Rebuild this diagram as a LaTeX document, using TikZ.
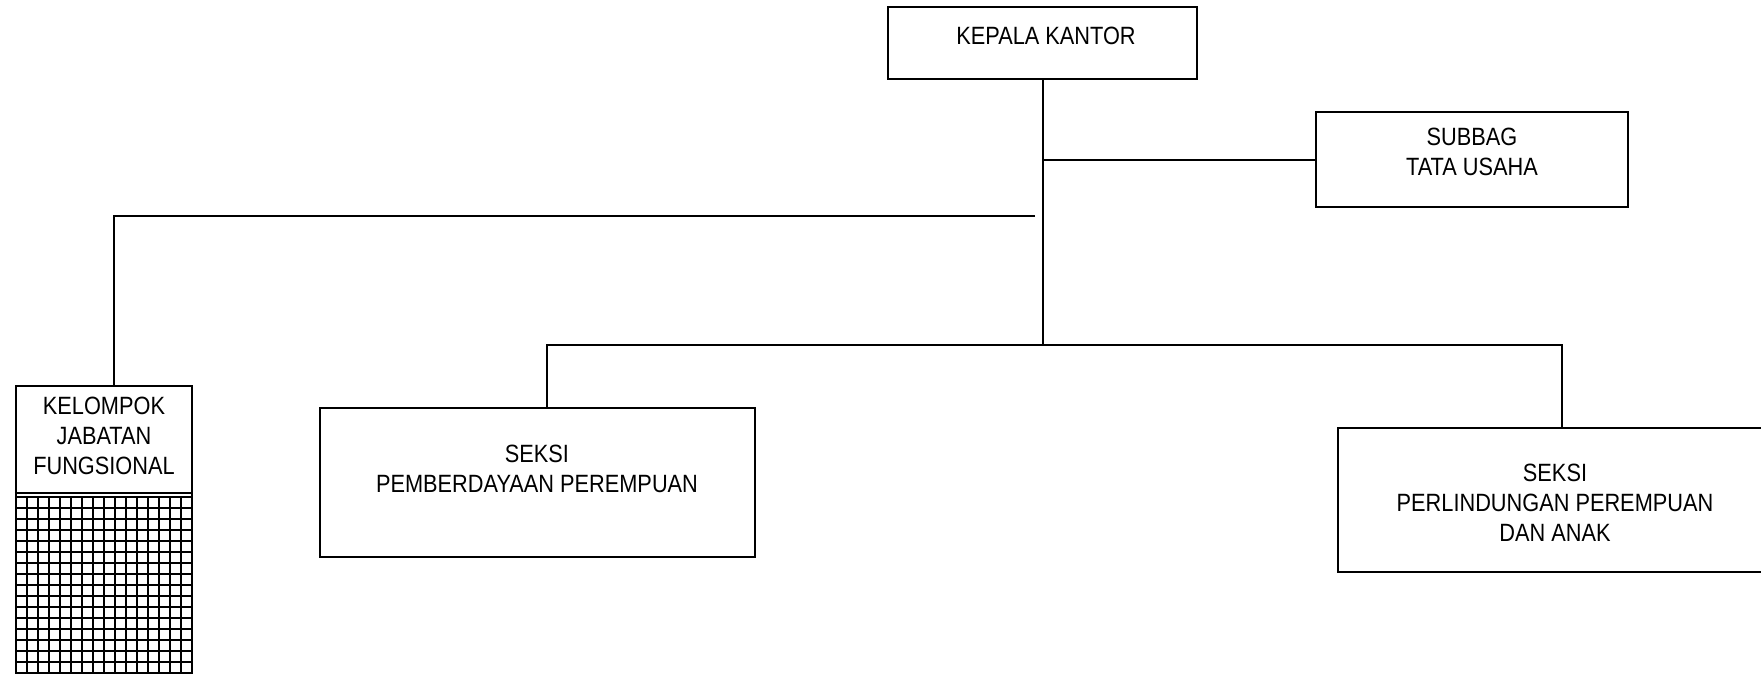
\documentclass[tikz,border=0pt]{standalone}
\usepackage{fontspec}
\setmainfont{Liberation Sans}[FakeStretch=0.87]
\tikzset{
  unitbox/.style={draw,line width=1.2pt,inner sep=0pt},
  unittext/.style={align=center,font=\fontsize{12.5}{15}\selectfont},
  linkline/.style={line width=1pt},
  gridline/.style={line width=1.3pt}
}
\begin{document}
\begin{tikzpicture}[x=0.5pt,y=-0.5pt]
    \useasboundingbox (0,0) rectangle (1761,674);
    \clip (0,0) rectangle (1761,674);
    \node[unitbox,minimum width=154.5pt,minimum height=36pt] (kepala) at (1042.5,43) {};
    \node[unittext] (kepalatext) at (1046,36) {KEPALA KANTOR};
    \node[unitbox,minimum width=156pt,minimum height=47.5pt] (subbag) at (1472,159.5) {};
    \node[unittext] (subbagtext) at (1472,152) {SUBBAG\\TATA USAHA};
    \node[unitbox,minimum width=217.5pt,minimum height=74.5pt] (pemberdayaan) at (537.5,482.5) {};
    \node[unittext] (pemberdayaantext) at (537,469) {SEKSI\\PEMBERDAYAAN PEREMPUAN};
    \node[unitbox,minimum width=217pt,minimum height=72pt] (perlindungan) at (1555,500) {};
    \node[unittext] (perlindungantext) at (1555,503) {SEKSI\\PERLINDUNGAN PEREMPUAN\\DAN ANAK};
    \node[unitbox,minimum width=88pt,minimum height=157pt] (kelompok) at (104,543) {};
    \node[unittext] (kelompoktext) at (104,436) {KELOMPOK\\JABATAN\\FUNGSIONAL};
    \draw[unitbox] (kelompok.west |- 0,493) -- (kelompok.east |- 0,493);
    \foreach \gx in {0,...,16}
      \draw[gridline] ({16+\gx*11},497) -- ({16+\gx*11},700);
    \foreach \gy in {0,...,17}
      \draw[gridline] (16,{497+\gy*11}) -- (192,{497+\gy*11});
    \coordinate (trunk) at (1042.5,345);
    \coordinate (leftend) at (1035,216);
    \draw[linkline] (kepala.south) -- (trunk);
    \draw[linkline] (kepala.south |- subbag.west) -- (subbag.west);
    \draw[linkline] (leftend) -| ([xshift=5pt]kelompok.north);
    \draw[linkline] ([xshift=4.75pt]pemberdayaan.north) |- (trunk) -| ([xshift=3.5pt]perlindungan.north);
\end{tikzpicture}
\end{document}
